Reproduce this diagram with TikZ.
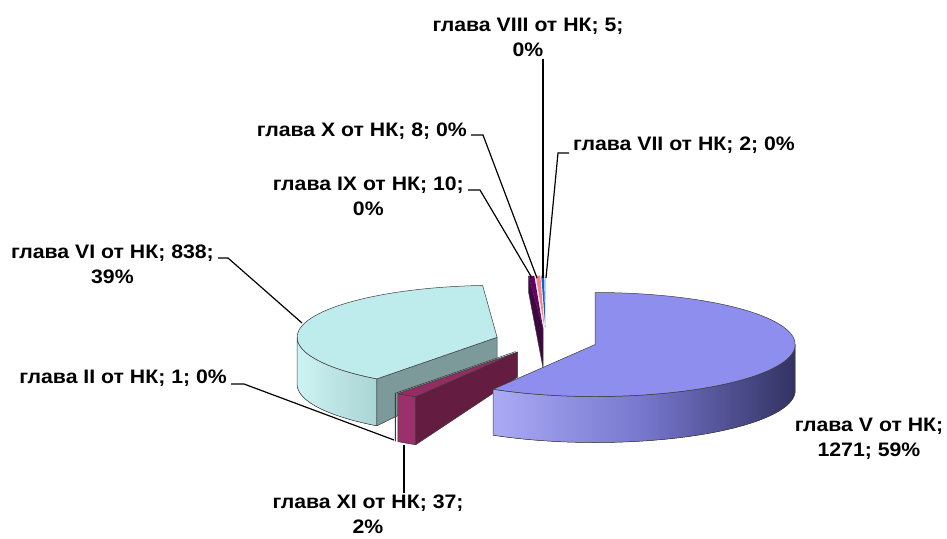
\documentclass[tikz,border=0pt]{standalone}
\usepackage{fontspec}
\setmainfont[FakeStretch=1.09]{Liberation Sans}

\definecolor{vtop}{RGB}{142,142,238}
\definecolor{vsideL}{RGB}{170,170,246}
\definecolor{vsideM}{RGB}{118,118,205}
\definecolor{vsideR}{RGB}{50,50,98}
\definecolor{vitop}{RGB}{190,236,236}
\definecolor{visideL}{RGB}{206,243,243}
\definecolor{visideR}{RGB}{170,212,212}
\definecolor{vicut}{RGB}{124,154,154}
\definecolor{xitop}{RGB}{146,44,98}
\definecolor{xiside}{RGB}{156,48,106}
\definecolor{xicut}{RGB}{100,28,64}
\definecolor{iitop}{RGB}{255,255,204}
\definecolor{ixtop}{RGB}{102,0,102}
\definecolor{ixcut}{RGB}{64,8,64}
\definecolor{xtop}{RGB}{255,128,128}
\definecolor{viiitop}{RGB}{0,102,204}
\definecolor{viitop}{RGB}{204,204,255}
\definecolor{rimline}{RGB}{60,60,60}

% point on the rim of a slice: apex x, apex y, angle
\newcommand{\pierim}[3]{({#1+200*cos(#3)},{#2-52*sin(#3)})}

\begin{document}
\begin{tikzpicture}[x=1pt,y=-1pt,x radius=200,y radius=52,
    face/.style={draw=rimline,line width=0.5pt,line join=round},
    lbl/.style={font=\fontsize{19.5}{25}\selectfont\bfseries,align=center,
      inner xsep=4pt,inner ysep=2pt},
    leader/.style={draw,line width=1.2pt}]
  \useasboundingbox (0,0) rectangle (947,538);

  % thin slices at the back
  \fill[viitop] (545.85,327.7) -- \pierim{545.85}{327.7}{90} arc[start angle=-90,end angle=-90.33] -- cycle;
  \fill[viiitop] (545.3,327.7) -- \pierim{545.3}{327.7}{90.33} arc[start angle=-90.33,end angle=-91.16] -- cycle;
  \fill[xtop] (544.4,327.7) -- \pierim{544.4}{327.7}{91.16} arc[start angle=-91.16,end angle=-92.49] -- cycle;
  \filldraw[face,fill=ixcut] (543,327.8) -- \pierim{543}{327.8}{94.15} -- ++(0,16) -- (543,367.8) -- cycle;
  \fill[ixtop] (543,327.8) -- \pierim{543}{327.8}{92.49} arc[start angle=-92.49,end angle=-94.15] -- cycle;

  % glava VI
  \filldraw[face,left color=visideL,right color=visideR] \pierim{497.1}{337.3}{180}
    arc[start angle=-180,end angle=-233.04] -- ++(0,47) arc[start angle=-233.04,end angle=-180] -- cycle;
  \filldraw[face,fill=vicut] (497.1,337.3) -- \pierim{497.1}{337.3}{233.04} -- ++(0,47) -- (497.1,367.3) -- cycle;
  \filldraw[face,fill=vitop] (497.1,337.3) -- \pierim{497.1}{337.3}{94.15}
    arc[start angle=-94.15,end angle=-233.04] -- cycle;

  % glava II
  \filldraw[face,fill=iitop] \pierim{515.4}{351.6}{233.04}
    arc[start angle=-233.04,end angle=-233.21] -- ++(0,48) arc[start angle=-233.21,end angle=-233.04] -- cycle;
  \filldraw[face,fill=iitop] (515.4,351.6) -- \pierim{515.4}{351.6}{233.04}
    arc[start angle=-233.04,end angle=-233.21] -- cycle;

  % glava XI
  \filldraw[face,fill=xiside] \pierim{517.7}{352}{233.21}
    arc[start angle=-233.21,end angle=-239.34] -- ++(0,48) arc[start angle=-239.34,end angle=-233.21] -- cycle;
  \filldraw[face,fill=xicut] (517.7,352) -- \pierim{517.7}{352}{239.34} -- ++(0,48) -- (517.7,377) -- cycle;
  \filldraw[face,fill=xitop] (517.7,352) -- \pierim{517.7}{352}{233.21}
    arc[start angle=-233.21,end angle=-239.34] -- cycle;

  % glava V
  \filldraw[face,left color=vsideL,right color=vsideR,middle color=vsideM] \pierim{595.2}{344.5}{-120.66}
    arc[start angle=120.66,end angle=0] -- ++(0,46) arc[start angle=0,end angle=120.66] -- cycle;
  \filldraw[face,fill=vtop] (595.2,344.5) -- \pierim{595.2}{344.5}{-120.66}
    arc[start angle=120.66,end angle=-90] -- cycle;

  % labels
  \node[lbl,anchor=north] (lVIII) at (528,15.7) {глава VIII от НК; 5;\\0\%};
  \node[lbl,anchor=north east] (lX) at (471,120.7) {глава X от НК; 8; 0\%};
  \node[lbl,anchor=north east] (lIX) at (468,174.7) {глава IX от НК; 10;\\0\%};
  \node[lbl,anchor=north west] (lVII) at (569,134.7) {глава VII от НК; 2; 0\%};
  \node[lbl,anchor=north east] (lVI) at (218,242.7) {глава VI от НК; 838;\\39\%};
  \node[lbl,anchor=north east] (lII) at (231,367.7) {глава II от НК; 1; 0\%};
  \node[lbl,anchor=north] (lXI) at (368,493) {глава XI от НК; 37;\\2\%};
  \node[lbl,anchor=north] (lV) at (869,415.7) {глава V от НК;\\1271; 59\%};

  \coordinate (tVIII) at (543,278);
  \coordinate (tX) at (537,278);
  \coordinate (tIX) at (532,278);
  \coordinate (tVII) at (546,278);
  \coordinate (tVI) at (302,323);
  \coordinate (tII) at (394,440);
  \coordinate (tXI) at (404,445);

  \draw[leader] (lVIII.south -| tVIII) -- (tVIII);
  \draw[leader] ([yshift=-14.3pt]lX.north east) -- ++(12,0) -- (tX);
  \draw[leader] ([yshift=-15.3pt]lIX.north east) -- ++(12,0) -- (tIX);
  \draw[leader] ([yshift=-18.3pt]lVII.north west) -- ++(-11,0) -- (tVII);
  \draw[leader] ([yshift=-15.3pt]lVI.north east) -- ++(10,0) -- (tVI);
  \draw[leader] ([yshift=-16.3pt]lII.north east) -- ++(13,0) -- (tII);
  \draw[leader] (tXI) -- (lXI.north -| tXI);
\end{tikzpicture}
\end{document}
